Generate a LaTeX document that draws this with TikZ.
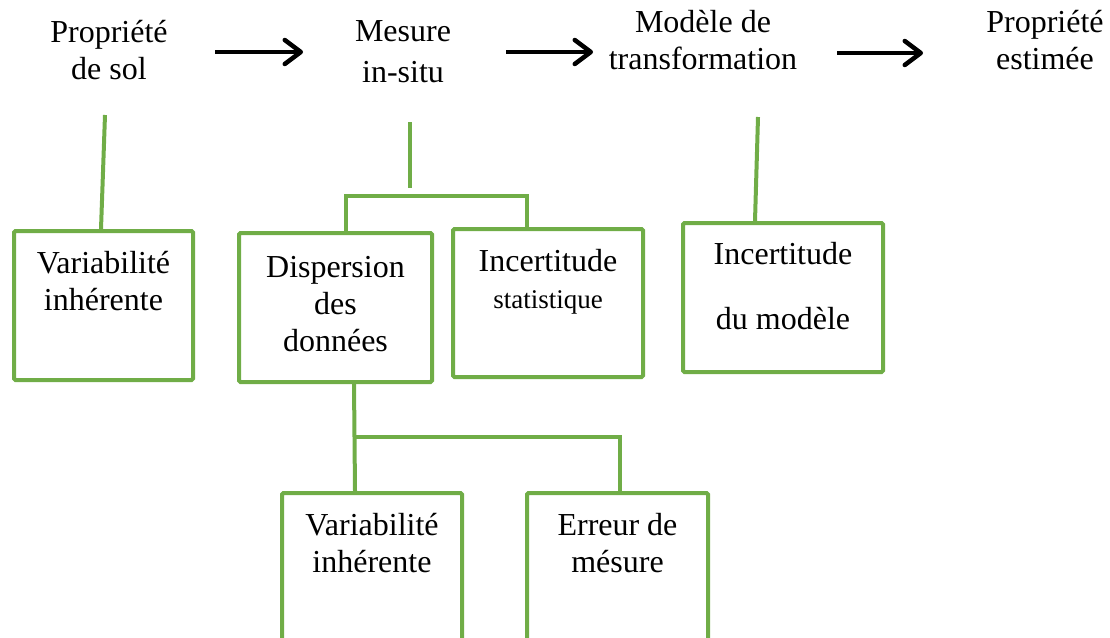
\documentclass[tikz,border=0pt]{standalone}
\usepackage{fontspec}
\setmainfont{Liberation Serif}
\usetikzlibrary{arrows.meta}
\definecolor{leafgreen}{HTML}{70AD47}
\tikzset{
  gline/.style={draw=leafgreen, line width=4pt},
  gbox/.style={draw=leafgreen, line width=4pt, inner sep=0pt, rounded corners=1.5pt},
  arr/.style={line width=4.5pt, -{Straight Barb[length=16pt,width=24pt,round]}},
  lbl/.style={align=center, inner sep=0pt, font=\fontsize{32}{37}\selectfont},
}
% box content: height, width, top gap, text
\newcommand\boxlines[4]{\parbox[c][#1][t]{#2}{\centering\fontsize{32}{37}\selectfont\vspace*{#3}#4\par}}
\begin{document}
\begin{tikzpicture}[x=1pt,y=-1pt]
\useasboundingbox (0,0) rectangle (1110,637);
\clip (0,0) rectangle (1110,637);

% chain of steps
\node[lbl] (prop)  at (109,50.5) {Propriété\\de sol};
\node[lbl] (mes)   at (403,52)   {Mesure\\[4pt]in-situ};
\node[lbl] (mod)   at (703,40.5) {Modèle de\\transformation};
\node[lbl] (est)   at (1045,40.5) {Propriété\\estimée};

\coordinate (a1s) at (215,52);  \coordinate (a1e) at (303,52);
\coordinate (a2s) at (506,52);  \coordinate (a2e) at (593,52);
\coordinate (a3s) at (837,53);  \coordinate (a3e) at (923,53);
\draw[arr] (a1s) -- (a1e);
\draw[arr] (a2s) -- (a2e);
\draw[arr] (a3s) -- (a3e);

% sources of uncertainty
\node[gbox] (b1) at (103.5,305.5) {\boxlines{149pt}{179pt}{20pt}{Variabilité\\inhérente}};
\node[gbox] (b2) at (335.5,307.5) {\boxlines{149pt}{193pt}{23pt}{Dispersion\\des\\données}};
\node[gbox] (b3) at (548,303)     {\boxlines{148pt}{190pt}{20pt}{Incertitude\\{\fontsize{27}{30}\selectfont statistique}}};
\node[gbox] (b4) at (783,297.5)   {\boxlines{149pt}{200pt}{19pt}{Incertitude\\[28pt]du modèle}};
\node[gbox] (b5) at (372,577)     {\boxlines{168pt}{180pt}{20pt}{Variabilité\\inhérente}};
\node[gbox] (b6) at (617.5,577)   {\boxlines{168pt}{181pt}{20pt}{Erreur de\\mésure}};

% tree connectors
\coordinate (g1) at (105,115);
\draw[gline] (g1) -- ([xshift=-2.5pt]b1.north);

\coordinate (g2t) at (410,122);
\coordinate (g2b) at (410,188);
\draw[gline] (g2t) -- (g2b);
\draw[gline] ([xshift=10.5pt]b2.north) -- ++(0,-35) -| ([xshift=-21pt]b3.north);

\coordinate (g4) at (758,117);
\draw[gline] (g4) -- ([xshift=-28pt]b4.north);

\draw[gline] ([xshift=18.5pt]b2.south) -- ([xshift=-17pt]b5.north);
\coordinate (j) at (356,437);
\draw[gline] (j) -| ([xshift=2.5pt]b6.north);
\end{tikzpicture}
\end{document}
